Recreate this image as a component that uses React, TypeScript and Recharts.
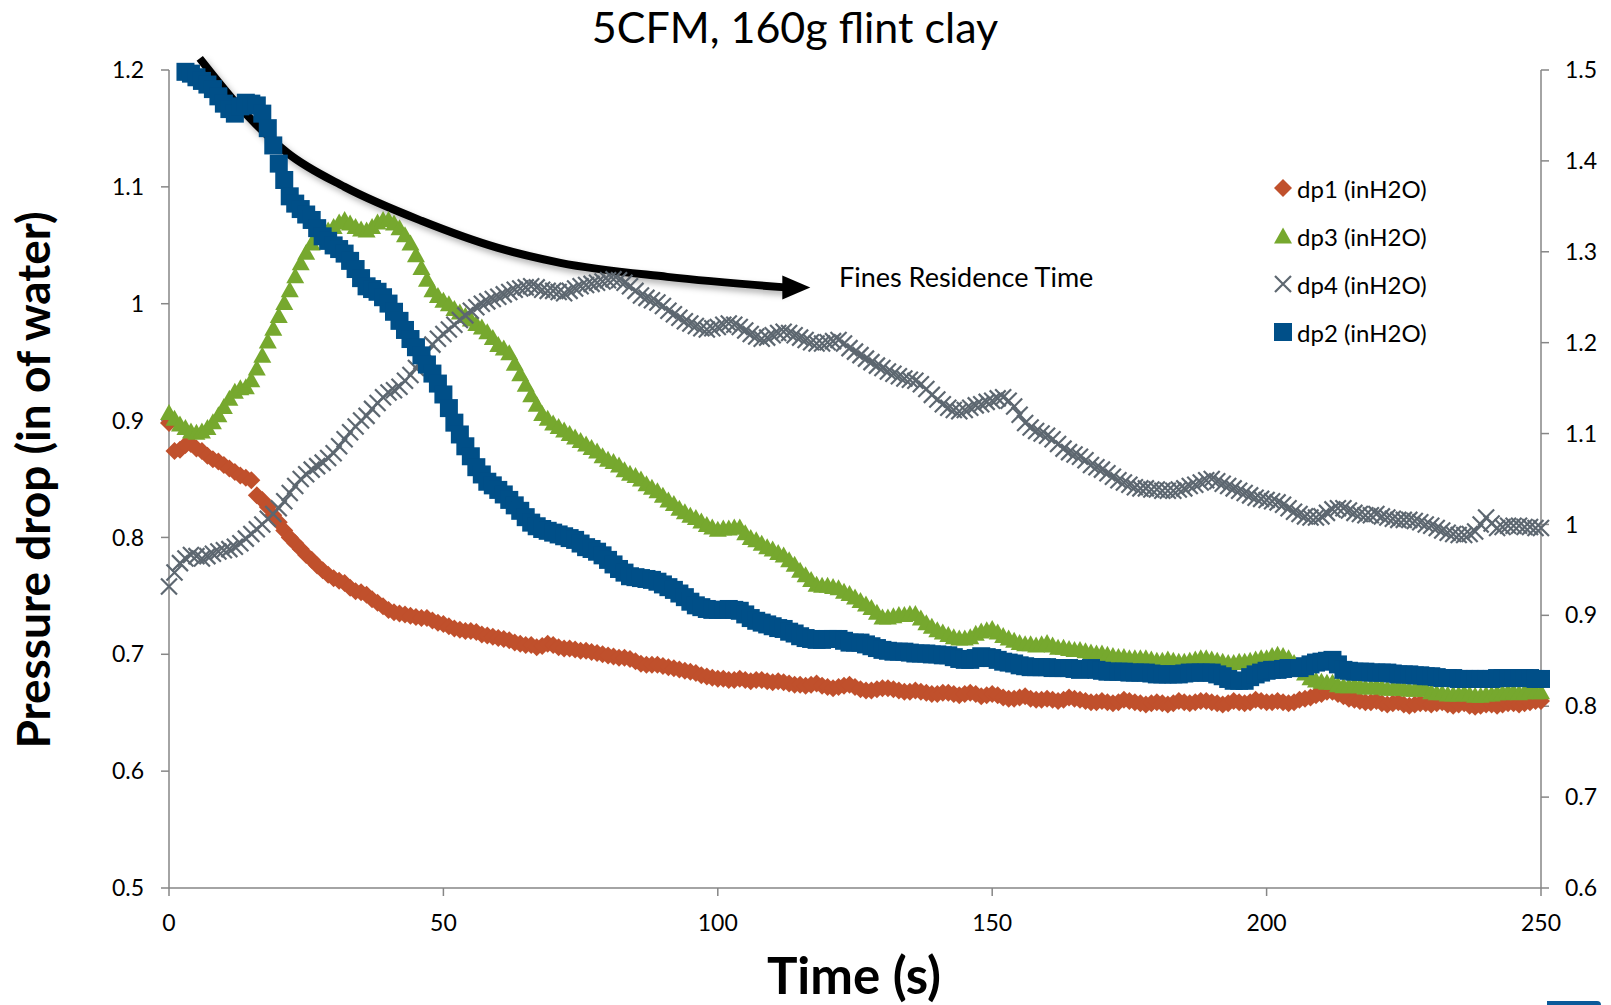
import React from "react";
import { ComposedChart, Line, XAxis, YAxis, Legend } from "recharts";

const FONT = "Lato, 'Open Sans', sans-serif";
const AXIS_GREY = "#868686";

// one reading per second
const timeS = Array.from({ length: 251 }, (_, i) => i);

// primary axis (in of water)
const dp1 = [
  0.898, 0.874, 0.875, 0.879, 0.88, 0.876, 0.874, 0.87, 0.867, 0.865,
  0.862, 0.859, 0.856, 0.853, 0.851, 0.849, 0.836, 0.832, 0.826, 0.819,
  0.813, 0.806, 0.8, 0.795, 0.79, 0.785, 0.781, 0.776, 0.772, 0.768,
  0.765, 0.763, 0.761, 0.757, 0.754, 0.753, 0.751, 0.747, 0.744, 0.741,
  0.738, 0.736, 0.735, 0.734, 0.733, 0.732, 0.731, 0.731, 0.729, 0.727,
  0.726, 0.724, 0.722, 0.721, 0.72, 0.72, 0.719, 0.717, 0.716, 0.715,
  0.714, 0.713, 0.712, 0.71, 0.709, 0.708, 0.708, 0.706, 0.707, 0.709,
  0.708, 0.706, 0.705, 0.705, 0.704, 0.703, 0.703, 0.702, 0.701, 0.7,
  0.699, 0.698, 0.697, 0.697, 0.696, 0.694, 0.692, 0.691, 0.691, 0.691,
  0.69, 0.689, 0.688, 0.687, 0.686, 0.685, 0.684, 0.682, 0.681, 0.68,
  0.679, 0.679, 0.678, 0.678, 0.679, 0.678, 0.677, 0.678, 0.678, 0.677,
  0.676, 0.677, 0.676, 0.675, 0.674, 0.674, 0.673, 0.674, 0.675, 0.673,
  0.672, 0.671, 0.672, 0.673, 0.674, 0.672, 0.67, 0.669, 0.669, 0.67,
  0.671, 0.671, 0.67, 0.669, 0.668, 0.668, 0.669, 0.668, 0.667, 0.666,
  0.666, 0.667, 0.667, 0.666, 0.665, 0.666, 0.667, 0.666, 0.664, 0.665,
  0.666, 0.665, 0.663, 0.662, 0.662, 0.663, 0.664, 0.662, 0.661, 0.661,
  0.662, 0.661, 0.66, 0.661, 0.663, 0.662, 0.661, 0.66, 0.659, 0.659,
  0.66, 0.659, 0.658, 0.659, 0.661, 0.66, 0.659, 0.658, 0.657, 0.658,
  0.659, 0.658, 0.657, 0.658, 0.66, 0.659, 0.658, 0.659, 0.66, 0.66,
  0.659, 0.658, 0.657, 0.658, 0.66, 0.659, 0.658, 0.659, 0.661, 0.66,
  0.659, 0.659, 0.66, 0.659, 0.658, 0.659, 0.661, 0.662, 0.663, 0.665,
  0.666, 0.668, 0.668, 0.666, 0.664, 0.662, 0.661, 0.66, 0.659, 0.659,
  0.66, 0.658, 0.657, 0.658, 0.659, 0.657, 0.656, 0.657, 0.658, 0.658,
  0.657, 0.658, 0.659, 0.657, 0.656, 0.657, 0.658, 0.656, 0.655, 0.656,
  0.657, 0.657, 0.656, 0.657, 0.658, 0.658, 0.657, 0.658, 0.659, 0.66,
  0.66,
];

const dp3 = [
  0.907, 0.902, 0.897, 0.894, 0.891, 0.89, 0.891, 0.894, 0.899, 0.905,
  0.912, 0.919, 0.925, 0.928, 0.929, 0.935, 0.945, 0.956, 0.968, 0.979,
  0.99, 1.001, 1.012, 1.024, 1.035, 1.044, 1.052, 1.057, 1.06, 1.063,
  1.066, 1.07, 1.072, 1.069, 1.066, 1.064, 1.063, 1.066, 1.07, 1.072,
  1.072, 1.069, 1.065, 1.059, 1.052, 1.042, 1.031, 1.021, 1.012, 1.007,
  1.003, 1.0, 0.996, 0.993, 0.99, 0.987, 0.983, 0.98, 0.976, 0.971,
  0.965, 0.962, 0.958, 0.949, 0.94, 0.931, 0.922, 0.914, 0.906, 0.902,
  0.898, 0.895, 0.892, 0.889, 0.886, 0.883, 0.88, 0.877, 0.874, 0.87,
  0.867, 0.865, 0.862, 0.858, 0.855, 0.853, 0.85, 0.846, 0.843, 0.84,
  0.836, 0.832, 0.829, 0.825, 0.822, 0.819, 0.817, 0.814, 0.811, 0.809,
  0.807, 0.808, 0.808, 0.809, 0.809, 0.804, 0.8, 0.798, 0.795, 0.792,
  0.79, 0.787, 0.785, 0.781, 0.777, 0.772, 0.768, 0.764, 0.76, 0.759,
  0.759, 0.758, 0.757, 0.754, 0.752, 0.749, 0.746, 0.743, 0.74, 0.736,
  0.732, 0.732, 0.733, 0.734, 0.734, 0.735, 0.735, 0.731, 0.727, 0.724,
  0.721, 0.719, 0.717, 0.715, 0.714, 0.714, 0.715, 0.718, 0.72, 0.721,
  0.722, 0.719, 0.716, 0.714, 0.712, 0.71, 0.709, 0.709, 0.708, 0.709,
  0.71, 0.708, 0.706, 0.706, 0.705, 0.704, 0.704, 0.703, 0.702, 0.701,
  0.701, 0.7, 0.699, 0.698, 0.698, 0.697, 0.697, 0.697, 0.697, 0.696,
  0.695, 0.695, 0.696, 0.695, 0.694, 0.694, 0.695, 0.696, 0.697, 0.697,
  0.696, 0.695, 0.694, 0.693, 0.693, 0.694, 0.694, 0.695, 0.696, 0.697,
  0.697, 0.699, 0.7, 0.699, 0.697, 0.693, 0.688, 0.684, 0.68, 0.678,
  0.677, 0.676, 0.676, 0.674, 0.673, 0.673, 0.674, 0.673, 0.672, 0.672,
  0.673, 0.672, 0.671, 0.671, 0.672, 0.671, 0.67, 0.67, 0.671, 0.67,
  0.668, 0.667, 0.667, 0.666, 0.666, 0.666, 0.667, 0.666, 0.665, 0.665,
  0.666, 0.666, 0.667, 0.667, 0.668, 0.668, 0.667, 0.668, 0.669, 0.668,
  0.668,
];

const dp4 = [
  0.758, 0.77, 0.778, 0.782, 0.785, 0.784, 0.782, 0.784, 0.786, 0.788,
  0.789, 0.79, 0.792, 0.795, 0.799, 0.803, 0.807, 0.811, 0.816, 0.82,
  0.825, 0.831, 0.838, 0.844, 0.85, 0.854, 0.858, 0.861, 0.864, 0.868,
  0.872, 0.878, 0.884, 0.89, 0.895, 0.9, 0.904, 0.91, 0.915, 0.92,
  0.924, 0.926, 0.929, 0.934, 0.939, 0.945, 0.951, 0.958, 0.965, 0.97,
  0.974, 0.978, 0.982, 0.986, 0.99, 0.994, 0.997, 1.0, 1.002, 1.004,
  1.006, 1.008, 1.01, 1.012, 1.013, 1.014, 1.015, 1.014, 1.012, 1.011,
  1.011, 1.01, 1.009, 1.011, 1.013, 1.015, 1.016, 1.017, 1.018, 1.019,
  1.02, 1.021, 1.02, 1.018, 1.015, 1.011, 1.007, 1.005, 1.003, 1.001,
  0.998, 0.994, 0.991, 0.988, 0.985, 0.983, 0.981, 0.979, 0.978, 0.979,
  0.98, 0.982, 0.983, 0.982, 0.98, 0.977, 0.974, 0.972, 0.97, 0.971,
  0.973, 0.975, 0.976, 0.975, 0.973, 0.971, 0.969, 0.967, 0.966, 0.966,
  0.967, 0.968, 0.969, 0.966, 0.962, 0.959, 0.956, 0.953, 0.95, 0.947,
  0.945, 0.942, 0.94, 0.938, 0.936, 0.935, 0.934, 0.931, 0.927, 0.922,
  0.918, 0.914, 0.911, 0.909, 0.908, 0.909, 0.911, 0.913, 0.914, 0.916,
  0.917, 0.919, 0.92, 0.917, 0.912, 0.905, 0.898, 0.894, 0.891, 0.889,
  0.887, 0.884, 0.88, 0.876, 0.873, 0.871, 0.869, 0.866, 0.862, 0.86,
  0.858, 0.855, 0.852, 0.849, 0.847, 0.845, 0.843, 0.842, 0.842, 0.841,
  0.841, 0.84, 0.84, 0.84, 0.841, 0.842, 0.844, 0.845, 0.847, 0.849,
  0.85, 0.848, 0.846, 0.844, 0.842, 0.84, 0.838, 0.836, 0.834, 0.833,
  0.832, 0.831, 0.83, 0.828, 0.825, 0.822, 0.82, 0.818, 0.817, 0.817,
  0.818, 0.821, 0.824, 0.825, 0.825, 0.823, 0.821, 0.82, 0.819, 0.819,
  0.82, 0.818, 0.817, 0.816, 0.815, 0.815, 0.815, 0.814, 0.813, 0.811,
  0.81, 0.808, 0.806, 0.804, 0.803, 0.802, 0.802, 0.803, 0.805, 0.811,
  0.817, 0.812, 0.808, 0.809, 0.81, 0.81, 0.81, 0.809, 0.809, 0.808,
  0.808,
];

// secondary axis; the first readings sit above the axis range
const dp2 = [
  null, null, null, 1.498, 1.496, 1.492, 1.488, 1.484, 1.479, 1.471,
  1.463, 1.457, 1.452, 1.46, 1.464, 1.463, 1.461, 1.452, 1.436, 1.417,
  1.397, 1.379, 1.361, 1.353, 1.347, 1.341, 1.335, 1.326, 1.317, 1.312,
  1.307, 1.303, 1.298, 1.29, 1.281, 1.271, 1.262, 1.259, 1.256, 1.25,
  1.243, 1.234, 1.224, 1.214, 1.204, 1.195, 1.186, 1.176, 1.166, 1.155,
  1.143, 1.128, 1.112, 1.099, 1.086, 1.075, 1.063, 1.055, 1.047, 1.043,
  1.038, 1.033, 1.027, 1.021, 1.015, 1.008, 1.002, 0.998, 0.995, 0.993,
  0.991, 0.989, 0.987, 0.985, 0.983, 0.979, 0.975, 0.973, 0.97, 0.966,
  0.961, 0.956, 0.951, 0.947, 0.943, 0.942, 0.941, 0.94, 0.939, 0.937,
  0.934, 0.931, 0.928, 0.924, 0.92, 0.915, 0.911, 0.909, 0.907, 0.906,
  0.906, 0.906, 0.907, 0.906, 0.905, 0.901, 0.897, 0.894, 0.892, 0.89,
  0.888, 0.886, 0.885, 0.882, 0.88, 0.877, 0.875, 0.874, 0.873, 0.873,
  0.874, 0.874, 0.874, 0.872, 0.87, 0.87, 0.87, 0.868, 0.866, 0.864,
  0.862, 0.861, 0.86, 0.86, 0.86, 0.859, 0.858, 0.858, 0.858, 0.857,
  0.857, 0.856, 0.856, 0.854, 0.852, 0.851, 0.851, 0.853, 0.855, 0.854,
  0.853, 0.851, 0.849, 0.848, 0.847, 0.845, 0.844, 0.843, 0.843, 0.843,
  0.843, 0.842, 0.842, 0.842, 0.842, 0.841, 0.84, 0.841, 0.842, 0.84,
  0.839, 0.838, 0.838, 0.838, 0.838, 0.837, 0.837, 0.837, 0.837, 0.836,
  0.835, 0.835, 0.835, 0.835, 0.835, 0.836, 0.837, 0.837, 0.837, 0.837,
  0.837, 0.835, 0.833, 0.83, 0.828, 0.828, 0.828, 0.832, 0.835, 0.837,
  0.839, 0.84, 0.84, 0.841, 0.842, 0.842, 0.842, 0.844, 0.846, 0.848,
  0.849, 0.85, 0.851, 0.846, 0.84, 0.839, 0.838, 0.838, 0.838, 0.837,
  0.837, 0.837, 0.837, 0.836, 0.835, 0.835, 0.835, 0.834, 0.834, 0.833,
  0.833, 0.832, 0.831, 0.831, 0.831, 0.83, 0.83, 0.83, 0.83, 0.83,
  0.83, 0.83, 0.831, 0.831, 0.831, 0.831, 0.831, 0.831, 0.831, 0.83,
  0.83,
];

const leftTicks = [0.5, 0.6, 0.7, 0.8, 0.9, 1, 1.1, 1.2];
const rightTicks = [0.6, 0.7, 0.8, 0.9, 1, 1.1, 1.2, 1.3, 1.4, 1.5];
const timeTicks = [0, 50, 100, 150, 200, 250];

// "Fines Residence Time" arrow, in (time, left-axis) units
const arrowTime = [5.6, 13.9, 21.6, 32.0, 46.0, 59.8, 71.3, 90.8, 112.3];
const arrowValue = [1.21, 1.163, 1.129, 1.1, 1.071, 1.048, 1.035, 1.023, 1.014];

const SERIES = [
  { key: "dp1", name: "dp1 (inH2O)", color: "#C0502C", marker: "diamond", axis: "left" },
  { key: "dp3", name: "dp3 (inH2O)", color: "#76A82E", marker: "triangle", axis: "left" },
  { key: "dp4", name: "dp4 (inH2O)", color: "#5D6770", marker: "cross", axis: "left" },
  { key: "dp2", name: "dp2 (inH2O)", color: "#004F88", marker: "square", axis: "right" },
];

const chartData = timeS.map((t, i) => ({
  t,
  dp1: dp1[i],
  dp3: dp3[i],
  dp4: dp4[i],
  dp2: dp2[i],
}));
const arrowData = arrowTime.map((t, i) => ({ t, y: arrowValue[i] }));

function MarkerShape({ kind, cx, cy, color }: { kind: string; cx: number; cy: number; color: string }) {
  if (kind === "diamond") {
    const h = 9;
    return <polygon points={`${cx},${cy - h} ${cx + h},${cy} ${cx},${cy + h} ${cx - h},${cy}`} fill={color} />;
  }
  if (kind === "triangle") {
    return <polygon points={`${cx},${cy - 8.5} ${cx + 9},${cy + 7.5} ${cx - 9},${cy + 7.5}`} fill={color} />;
  }
  if (kind === "square") {
    return <rect x={cx - 9} y={cy - 9} width={18} height={18} fill={color} />;
  }
  const c = 8;
  return (
    <path
      d={`M${cx - c},${cy - c}L${cx + c},${cy + c}M${cx + c},${cy - c}L${cx - c},${cy + c}`}
      stroke={color}
      strokeWidth={2.2}
      fill="none"
    />
  );
}

const markerDot = (kind: string, color: string) => (props: any) => {
  const { cx, cy, index, value } = props;
  if (cx == null || cy == null || value == null) return <g key={`m-${index}`} />;
  return (
    <g key={`m-${index}`}>
      <MarkerShape kind={kind} cx={cx} cy={cy} color={color} />
    </g>
  );
};

const arrowHead = (props: any) => {
  const { cx, cy, index } = props;
  if (index !== arrowData.length - 1 || cx == null) return <g key={`a-${index}`} />;
  return (
    <polygon
      key={`a-${index}`}
      points={`${cx - 3},${cy - 12} ${cx + 25},${cy} ${cx - 3},${cy + 12}`}
      fill="#000"
    />
  );
};

const renderLegend = (props: any) => {
  const { payload = [] } = props;
  const ordered = SERIES.map((s) => ({ s, entry: payload.find((p: any) => p.dataKey === s.key) })).filter(
    (x) => x.entry
  );
  return (
    <div style={{ fontFamily: FONT, fontSize: 24, color: "#000" }}>
      {ordered.map(({ s, entry }) => (
        <div key={s.key} style={{ display: "flex", alignItems: "center", height: 48 }}>
          <svg width={20} height={20} style={{ marginRight: 4 }}>
            <MarkerShape kind={s.marker} cx={10} cy={10} color={s.color} />
          </svg>
          <span>{entry.value}</span>
        </div>
      ))}
    </div>
  );
};

const fmt = (v: number) => String(Number(v.toFixed(1)));
const tickStyle = { fill: "#000", fontSize: 23, fontFamily: FONT };

export default function App() {
  return (
    <div
      style={{
        position: "absolute",
        left: 0,
        top: 0,
        width: 1611,
        height: 1005,
        background: "#fff",
        overflow: "hidden",
        fontFamily: FONT,
      }}
    >
      <style>{`.fines-arrow { filter: drop-shadow(3px 4px 3px rgba(0,0,0,0.3)); }`}</style>
      <ComposedChart
        width={1611}
        height={1005}
        data={chartData}
        margin={{ top: 70, right: 0, bottom: 0, left: 0 }}
      >
        <XAxis
          dataKey="t"
          type="number"
          domain={[0, 250]}
          ticks={timeTicks}
          height={117}
          tickSize={8}
          tickMargin={19}
          stroke={AXIS_GREY}
          strokeWidth={1.5}
          tick={tickStyle}
        />
        <YAxis
          yAxisId="left"
          orientation="left"
          type="number"
          domain={[0.5, 1.2]}
          ticks={leftTicks}
          width={169}
          tickSize={8}
          tickMargin={17}
          stroke={AXIS_GREY}
          strokeWidth={1.5}
          tick={tickStyle}
          tickFormatter={fmt}
        />
        <YAxis
          yAxisId="right"
          orientation="right"
          type="number"
          domain={[0.6, 1.5]}
          ticks={rightTicks}
          width={70}
          tickSize={8}
          tickMargin={16}
          stroke={AXIS_GREY}
          strokeWidth={1.5}
          tick={tickStyle}
          tickFormatter={fmt}
        />
        {/* same scale as the left axis, stretched 12px above the plot so the arrow tail is not cut */}
        <YAxis
          yAxisId="arrow"
          hide
          width={0}
          type="number"
          domain={[0.5, 1.2103]}
          padding={{ top: -12, bottom: 0 }}
        />
        <Legend
          layout="vertical"
          align="center"
          verticalAlign="middle"
          content={renderLegend}
          wrapperStyle={{ position: "absolute", left: 1273, top: 164, width: 220 }}
        />
        {SERIES.map((s) => (
          <Line
            key={s.key}
            yAxisId={s.axis}
            dataKey={s.key}
            name={s.name}
            stroke="none"
            strokeWidth={0}
            dot={markerDot(s.marker, s.color)}
            activeDot={false}
            isAnimationActive={false}
          />
        ))}
        <Line
          data={arrowData}
          yAxisId="arrow"
          dataKey="y"
          type="monotone"
          stroke="#000"
          strokeWidth={8}
          dot={arrowHead}
          activeDot={false}
          legendType="none"
          className="fines-arrow"
          isAnimationActive={false}
        />
      </ComposedChart>
      <svg
        width={1611}
        height={1005}
        style={{ position: "absolute", left: 0, top: 0, pointerEvents: "none" }}
      >
        <text x={795} y={43} textAnchor="middle" fontFamily={FONT} fontSize={43} fill="#000">
          5CFM, 160g flint clay
        </text>
        <text
          transform="translate(50 480) rotate(-90)"
          textAnchor="middle"
          fontFamily={FONT}
          fontWeight={700}
          fontSize={46}
          fill="#000"
        >
          Pressure drop (in of water)
        </text>
        <text x={854} y={994} textAnchor="middle" fontFamily={FONT} fontWeight={700} fontSize={51} fill="#000">
          Time (s)
        </text>
        <text x={839} y={287} fontFamily={FONT} fontSize={27} fill="#000">
          Fines Residence Time
        </text>
      </svg>
      <div
        style={{
          position: "absolute",
          left: 1547,
          top: 1001,
          width: 54,
          height: 4,
          background: "#0B5A9A",
          borderTopRightRadius: 10,
        }}
      />
    </div>
  );
}
